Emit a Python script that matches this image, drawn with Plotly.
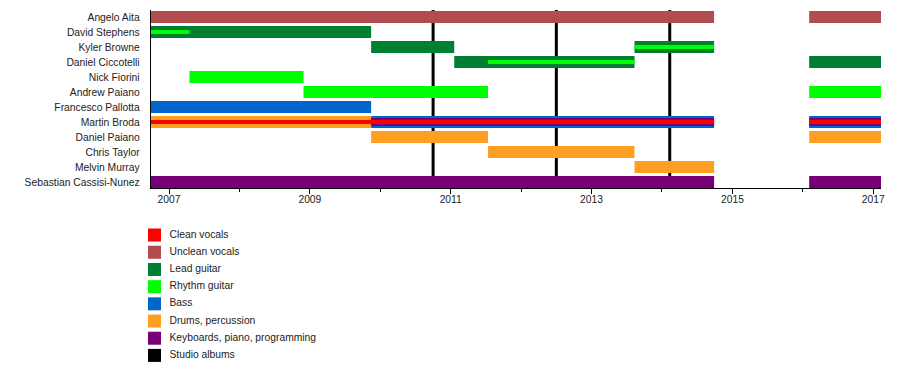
import plotly.graph_objects as go

# ---------------- data ----------------
members = ["Angelo Aita", "David Stephens", "Kyler Browne", "Daniel Ciccotelli",
           "Nick Fiorini", "Andrew Paiano", "Francesco Pallotta", "Martin Broda",
           "Daniel Paiano", "Chris Taylor", "Melvin Murray", "Sebastian Cassisi-Nunez"]

roles = ["Clean vocals", "Unclean vocals", "Lead guitar", "Rhythm guitar", "Bass",
         "Drums, percussion", "Keyboards, piano, programming", "Studio albums"]
role_colors = ["#FF0000", "#B24D4D", "#007F33", "#00FF00", "#0066CC",
               "#FF9F22", "#770077", "#000000"]

# spells (decimal years); layer 0 = main bar, 1 = medium stripe, 2 = thin stripe
spell_member = ["Angelo Aita", "Angelo Aita",
                "David Stephens", "David Stephens",
                "Kyler Browne", "Kyler Browne", "Kyler Browne",
                "Daniel Ciccotelli", "Daniel Ciccotelli", "Daniel Ciccotelli",
                "Nick Fiorini",
                "Andrew Paiano", "Andrew Paiano",
                "Francesco Pallotta",
                "Martin Broda", "Martin Broda", "Martin Broda", "Martin Broda",
                "Martin Broda", "Martin Broda", "Martin Broda",
                "Daniel Paiano", "Daniel Paiano",
                "Chris Taylor",
                "Melvin Murray",
                "Sebastian Cassisi-Nunez", "Sebastian Cassisi-Nunez"]
spell_role = ["Unclean vocals", "Unclean vocals",
              "Lead guitar", "Rhythm guitar",
              "Lead guitar", "Lead guitar", "Rhythm guitar",
              "Lead guitar", "Rhythm guitar", "Lead guitar",
              "Rhythm guitar",
              "Rhythm guitar", "Rhythm guitar",
              "Bass",
              "Drums, percussion", "Bass", "Keyboards, piano, programming", "Clean vocals",
              "Bass", "Keyboards, piano, programming", "Clean vocals",
              "Drums, percussion", "Drums, percussion",
              "Drums, percussion",
              "Drums, percussion",
              "Keyboards, piano, programming", "Keyboards, piano, programming"]
spell_start = [2006.74, 2016.09,
               2006.74, 2006.74,
               2009.87, 2013.61, 2013.61,
               2011.05, 2011.53, 2016.09,
               2007.29,
               2008.91, 2016.09,
               2006.74,
               2006.74, 2009.87, 2009.87, 2006.74,
               2016.09, 2016.09, 2016.09,
               2009.87, 2016.09,
               2011.53,
               2013.61,
               2006.74, 2016.09]
spell_end = [2014.74, 2017.11,
             2009.87, 2007.29,
             2011.05, 2014.74, 2014.74,
             2013.61, 2013.61, 2017.11,
             2008.91,
             2011.53, 2017.11,
             2009.87,
             2009.87, 2014.74, 2014.74, 2014.74,
             2017.11, 2017.11, 2017.11,
             2011.53, 2017.11,
             2013.61,
             2014.74,
             2014.74, 2017.11]
spell_layer = [0, 0,
               0, 2,
               0, 0, 2,
               0, 2, 0,
               0,
               0, 0,
               0,
               0, 0, 1, 2,
               0, 1, 2,
               0, 0,
               0,
               0,
               0, 0]

studio_albums = [2010.75, 2012.50, 2014.11]

x_ticks = [2007, 2009, 2011, 2013, 2015, 2017]
x_range = [2006.74, 2017.11]

# ---------------- style ----------------
OFF = 8  # page body margin
W, H = 900 - OFF, 386 - OFF
FONT = dict(family="Liberation Sans, Arial, sans-serif", size=10.3, color="#222222")
layer_width = {0: 0.8, 1: 0.533, 2: 0.267}
color_of = dict(zip(roles, role_colors))
row_of = {m: i for i, m in enumerate(members)}

fig = go.Figure()

for layer in (0, 1, 2):
    for role in roles:
        idx = [i for i in range(len(spell_member))
               if spell_layer[i] == layer and spell_role[i] == role]
        if not idx:
            continue
        fig.add_trace(go.Bar(
            orientation="h",
            y=[row_of[spell_member[i]] for i in idx],
            base=[spell_start[i] for i in idx],
            x=[spell_end[i] - spell_start[i] for i in idx],
            width=layer_width[layer],
            marker=dict(color=color_of[role], line=dict(width=0)),
            showlegend=False, hoverinfo="skip",
            xaxis="x", yaxis="y",
        ))

for a in studio_albums:
    fig.add_shape(type="line", xref="x", yref="y domain", x0=a, x1=a, y0=0, y1=1,
                  line=dict(color="black", width=3), layer="below")

# manual legend
leg_rows = list(range(len(roles)))
fig.add_trace(go.Scatter(
    x=[6.5] * len(roles), y=leg_rows, mode="markers",
    marker=dict(symbol="square", size=13, color=role_colors, line=dict(width=0)),
    xaxis="x2", yaxis="y2", showlegend=False, hoverinfo="skip"))
fig.add_trace(go.Scatter(
    x=[21.5] * len(roles), y=leg_rows, mode="text", text=roles,
    textposition="middle right", textfont=FONT,
    xaxis="x2", yaxis="y2", showlegend=False, hoverinfo="skip"))

# plot area pixels (reference coords, shifted by body margin)
pl, pr, pt, pb = 150.7 - OFF, 881 - OFF, 10 - OFF, 188 - OFF
lg_l, lg_r, lg_t, lg_b = 148 - OFF, 500 - OFF, 226.5 - OFF, 364 - OFF

fig.update_layout(
    width=W, height=H,
    margin=dict(l=0, r=0, t=0, b=0),
    paper_bgcolor="white", plot_bgcolor="white",
    font=FONT, barmode="overlay", showlegend=False,
    xaxis=dict(domain=[pl / W, pr / W], range=x_range, anchor="y",
               tickvals=x_ticks, ticks="outside", ticklen=5, tickcolor="black",
               ticklabelstandoff=-3,
               minor=dict(dtick=1, tick0=2007, ticks="outside", ticklen=3, tickcolor="black"),
               showline=True, linecolor="black", linewidth=1,
               showgrid=False, zeroline=False, automargin=False, fixedrange=True),
    yaxis=dict(domain=[(H - pb) / H, (H - pt) / H], range=[11.4, -0.47], anchor="x",
               tickvals=list(range(len(members))), ticktext=members, ticks="",
               ticklabelstandoff=8,
               showline=True, linecolor="black", linewidth=1,
               showgrid=False, zeroline=False, automargin=False, fixedrange=True),
    xaxis2=dict(domain=[lg_l / W, lg_r / W], range=[0, lg_r - lg_l], anchor="y2",
                visible=False, fixedrange=True),
    yaxis2=dict(domain=[(H - lg_b) / H, (H - lg_t) / H], range=[7.5, -0.5], anchor="x2",
                visible=False, fixedrange=True),
)

fig.write_html("out.html")
